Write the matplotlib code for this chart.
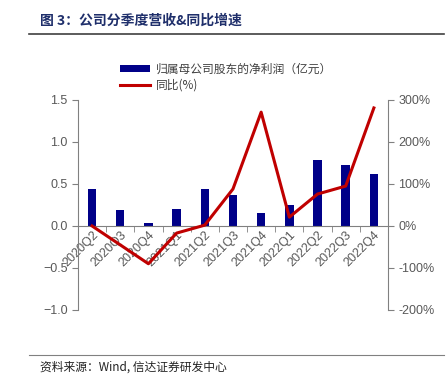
import numpy as np
import matplotlib
matplotlib.use("Agg")
import matplotlib.pyplot as plt
from matplotlib.ticker import FuncFormatter

plt.rcParams['font.family'] = ['Liberation Sans', 'Noto Sans CJK SC', 'DejaVu Sans']

quarters = ['2020Q2', '2020Q3', '2020Q4', '2021Q1', '2021Q2', '2021Q3',
            '2021Q4', '2022Q1', '2022Q2', '2022Q3', '2022Q4']
profit = [0.44, 0.19, 0.04, 0.20, 0.44, 0.37, 0.16, 0.25, 0.78, 0.73, 0.62]
yoy = [0, -45, -90, -17, 2, 88, 271, 21, 76, 95, 281]

gray = '#808080'
fig = plt.figure(figsize=(4.48, 3.86), dpi=100)
ax = fig.add_axes([0.174, 0.197, 0.692, 0.544])
x = np.arange(len(quarters))
bars = ax.bar(x, profit, width=0.3, color='#000088', zorder=2)
ax.set_ylim(-1.0, 1.5)
ax.set_yticks([-1.0, -0.5, 0.0, 0.5, 1.0, 1.5])
ax.set_xlim(-0.5, len(quarters) - 0.5)
ax.spines['top'].set_visible(False)
ax.spines['right'].set_visible(False)
ax.spines['left'].set_color(gray)
ax.spines['bottom'].set_color(gray)
ax.spines['bottom'].set_position(('data', 0))
ax.tick_params(axis='y', colors=gray, labelsize=9, length=4, labelcolor='#595959')
ax.set_xticks(x)
ax.set_xticklabels(quarters, rotation=45, ha='right', rotation_mode='anchor',
                   fontsize=9, color='#595959')
ax.tick_params(axis='x', length=0, pad=2)
ax.set_xticks(np.arange(len(quarters) + 1) - 0.5, minor=True)
ax.tick_params(axis='x', which='minor', length=4, color=gray)

ax2 = ax.twinx()
line, = ax2.plot(x, yoy, color='#C00000', lw=2.2, zorder=3)
ax2.set_ylim(-200, 300)
ax2.set_yticks([-200, -100, 0, 100, 200, 300])
ax2.yaxis.set_major_formatter(FuncFormatter(lambda v, p: '%d%%' % v))
for s in ['top', 'left', 'bottom']:
    ax2.spines[s].set_visible(False)
ax2.spines['right'].set_color(gray)
ax2.tick_params(axis='y', colors=gray, labelsize=9, length=4, labelcolor='#595959')

fig.legend([bars, line], ['归属母公司股东的净利润（亿元）', '同比(%)'],
           loc='upper left', bbox_to_anchor=(0.245, 0.865), frameon=False,
           handlelength=2.5, handleheight=0.5, labelspacing=0.25, handletextpad=0.5,
           prop={'family': ['Noto Sans CJK SC'], 'size': 8.5}, labelcolor='#404040')

fig.text(0.09, 0.935, '图 3：公司分季度营收&同比增速', fontsize=10, fontweight='bold',
         color='#1F2F6B', family=['Noto Sans CJK SC'])
fig.add_artist(plt.Line2D([0.065, 0.99], [0.913, 0.913], color='#404040', lw=1.2))
fig.add_artist(plt.Line2D([0.065, 0.99], [0.08, 0.08], color='#808080', lw=0.8))
fig.text(0.09, 0.04, '资料来源：Wind, 信达证券研发中心', fontsize=8.5, style='italic',
         color='#222222', family=['Noto Sans CJK SC'])

fig.savefig('out.png', dpi=100)
